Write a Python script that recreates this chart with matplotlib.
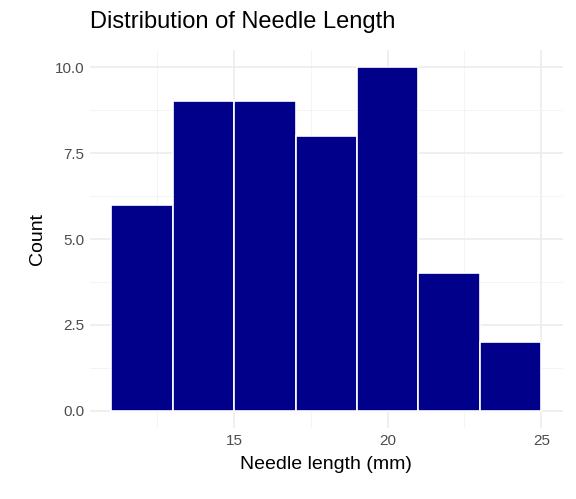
import matplotlib
matplotlib.use("Agg")
import matplotlib.pyplot as plt

bin_edges = [11, 13, 15, 17, 19, 21, 23, 25]
counts = [6, 9, 9, 8, 10, 4, 2]
x_ticks = [15, 20, 25]
y_ticks = [0.0, 2.5, 5.0, 7.5, 10.0]

plt.rcParams['font.family'] = ['Liberation Sans', 'DejaVu Sans']
fig = plt.figure(figsize=(5.76, 4.99), dpi=100)
ax = fig.add_axes([0.156, 0.142, 0.821, 0.758])
lefts = bin_edges[:-1]
widths = [b - a for a, b in zip(bin_edges[:-1], bin_edges[1:])]
ax.bar(lefts, counts, width=widths, align='edge', color='#00008B',
       edgecolor='white', linewidth=1.2, zorder=3)
ax.set_xlim(10.3, 25.7)
ax.set_ylim(-0.5, 10.5)
ax.set_xticks(x_ticks)
ax.set_yticks(y_ticks)
ax.set_yticklabels([f"{v:.1f}" for v in y_ticks])
ax.set_xticks([12.5, 17.5, 22.5], minor=True)
ax.set_yticks([1.25, 3.75, 6.25, 8.75], minor=True)
ax.grid(True, which='major', color='#EBEBEB', linewidth=1.1, zorder=0)
ax.grid(True, which='minor', color='#F3F3F3', linewidth=0.6, zorder=0)
for s in ax.spines.values():
    s.set_visible(False)
ax.tick_params(which='both', length=0, labelsize=11, labelcolor='#4D4D4D', pad=4)
ax.set_xlabel("Needle length (mm)", fontsize=14, labelpad=6)
ax.set_ylabel("Count", fontsize=14, labelpad=6)
fig.text(0.156, 0.955, "Distribution of Needle Length", fontsize=17, va='center', ha='left')
fig.savefig("out.png", dpi=100)
